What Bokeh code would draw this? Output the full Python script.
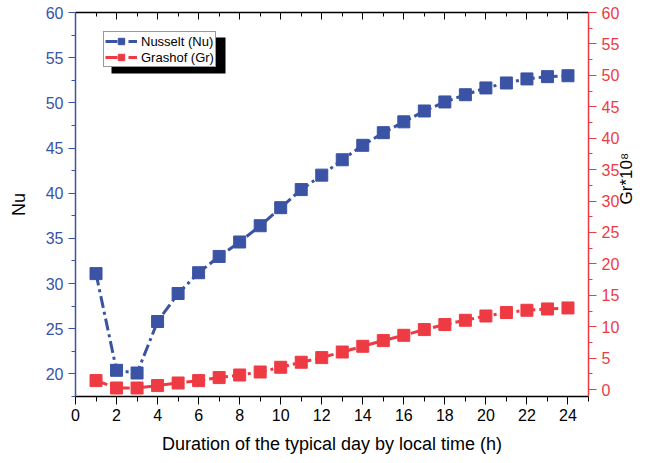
import math
from bokeh.plotting import figure
from bokeh.models import (Range1d, LinearAxis, Legend, LegendItem,
                          BoxAnnotation, SingleIntervalTicker)
from bokeh.embed import file_html
from bokeh.resources import INLINE

hours = list(range(1, 25))
nu = [31.1, 20.4, 20.1, 25.8, 28.9, 31.2, 33.0, 34.6, 36.4, 38.4, 40.4, 42.0,
      43.7, 45.3, 46.7, 47.9, 49.1, 50.1, 50.9, 51.65, 52.2, 52.65, 52.9, 53.0]
gr = [1.43, 0.25, 0.25, 0.64, 1.05, 1.43, 1.91, 2.32, 2.8, 3.55, 4.35, 5.09,
      5.98, 6.89, 7.8, 8.64, 9.55, 10.35, 11.03, 11.71, 12.26, 12.62, 12.83, 12.99]

BLUE = "#3A53A4"
RED = "#EE3B43"
FONT = "Liberation Sans"

p = figure(width=648, height=463, output_backend="svg", toolbar_location=None,
           x_range=Range1d(0, 25), y_range=Range1d(17.5, 60),
           min_border_left=75, min_border_right=58, min_border_top=12,
           min_border_bottom=67, x_axis_type=None, y_axis_type=None)
p.extra_y_ranges = {"gr": Range1d(-1.1, 60)}
p.outline_line_color = None
p.background_fill_color = "white"
p.border_fill_color = "white"

xt = SingleIntervalTicker(interval=2, num_minor_ticks=2)
yt = SingleIntervalTicker(interval=5, num_minor_ticks=2)
rt = SingleIntervalTicker(interval=5, num_minor_ticks=2)

# bottom axis
xa = LinearAxis(ticker=xt, axis_label="Duration of the typical day by local time (h)")
xa.axis_line_color = "black"
xa.axis_line_width = 1.5
xa.major_tick_line_color = "black"
xa.minor_tick_line_color = "black"
xa.major_tick_out = 8
xa.major_tick_in = 0
xa.minor_tick_out = 5
xa.minor_tick_in = 0
xa.major_label_text_font = FONT
xa.major_label_text_font_size = "16px"
xa.major_label_text_color = "black"
xa.major_label_standoff = 4
xa.axis_label_text_font = FONT
xa.axis_label_text_font_size = "18px"
xa.axis_label_text_font_style = "normal"
xa.axis_label_text_color = "black"
xa.axis_label_standoff = 10
p.add_layout(xa, "below")

# top axis (mirror, ticks in)
ta = LinearAxis(ticker=xt)
ta.axis_line_color = "black"
ta.axis_line_width = 1.5
ta.major_tick_line_color = "black"
ta.minor_tick_line_color = "black"
ta.major_tick_out = 0
ta.major_tick_in = 7
ta.minor_tick_out = 0
ta.minor_tick_in = 4
ta.major_label_text_color = None
ta.major_label_text_font_size = "1px"
ta.major_label_standoff = 0
p.add_layout(ta, "above")

# left axis
ya = LinearAxis(ticker=yt, axis_label="Nu")
ya.axis_line_color = BLUE
ya.axis_line_width = 1.5
ya.major_tick_line_color = BLUE
ya.minor_tick_line_color = BLUE
ya.major_tick_out = 7
ya.major_tick_in = 0
ya.minor_tick_out = 4
ya.minor_tick_in = 0
ya.major_label_text_font = FONT
ya.major_label_text_font_size = "16px"
ya.major_label_text_color = BLUE
ya.major_label_standoff = 5
ya.axis_label_text_font = FONT
ya.axis_label_text_font_size = "18px"
ya.axis_label_text_font_style = "normal"
ya.axis_label_text_color = "black"
ya.axis_label_standoff = 14
p.add_layout(ya, "left")

# right axis
ra = LinearAxis(ticker=rt, y_range_name="gr", axis_label="Gr*10\u2078")
ra.axis_line_color = RED
ra.axis_line_width = 1.5
ra.major_tick_line_color = RED
ra.minor_tick_line_color = RED
ra.major_tick_out = 8
ra.major_tick_in = 0
ra.minor_tick_out = 4
ra.minor_tick_in = 0
ra.major_label_text_font = FONT
ra.major_label_text_font_size = "16px"
ra.major_label_text_color = RED
ra.major_label_standoff = 5
ra.axis_label_text_font = FONT
ra.axis_label_text_font_size = "17px"
ra.axis_label_text_font_style = "normal"
ra.axis_label_text_color = "black"
ra.axis_label_standoff = 4
try:
    ra.axis_label_orientation = math.pi / 2
except Exception:
    pass
p.add_layout(ra, "right")

l_nu = p.line(hours, nu, line_color=BLUE, line_width=3, line_dash="12 4 3 4")
s_nu = p.scatter(hours, nu, marker="square", size=12, fill_color=BLUE,
                 line_color=BLUE)
l_gr = p.line(hours, gr, line_color=RED, line_width=3, line_dash="12 4 3 4",
              y_range_name="gr")
s_gr = p.scatter(hours, gr, marker="square", size=12, fill_color=RED,
                 line_color=RED, y_range_name="gr")

shadow = BoxAnnotation(left=36, right=150, top=359, bottom=323,
                       left_units="screen", right_units="screen",
                       top_units="screen", bottom_units="screen",
                       fill_color="black", fill_alpha=1, line_color=None)
p.add_layout(shadow)

legend = Legend(items=[LegendItem(label="Nusselt (Nu)", renderers=[l_nu, s_nu]),
                       LegendItem(label="Grashof (Gr)", renderers=[l_gr, s_gr])],
                location=(28, 329))
legend.label_text_font = FONT
legend.label_text_font_size = "13px"
legend.label_text_color = "black"
legend.glyph_width = 32
legend.glyph_height = 16
legend.label_height = 16
legend.label_standoff = 4
legend.spacing = 0
legend.padding = 1
legend.margin = 0
legend.border_line_color = "#333333"
legend.border_line_width = 1
legend.background_fill_color = "white"
legend.background_fill_alpha = 1
p.add_layout(legend, "center")

open("out.html", "w").write(file_html(p, INLINE))
